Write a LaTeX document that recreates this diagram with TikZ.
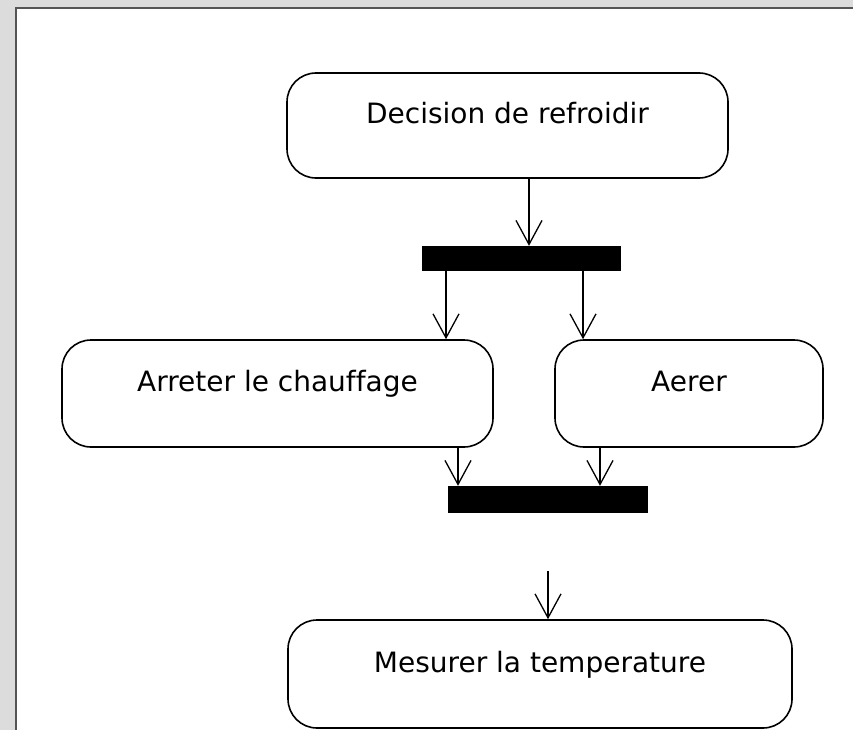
\documentclass[tikz,border=0pt]{standalone}
\usepackage{fontspec}
\setmainfont{DejaVu Sans}[Ligatures=NoCommon]
\usetikzlibrary{arrows.meta}
\definecolor{framegray}{HTML}{DCDCDC}
\definecolor{edgegray}{HTML}{555555}
\begin{document}
\begin{tikzpicture}[x=1pt,y=-1pt,
  activity/.style={draw=black, line width=1.6pt, rounded corners=29pt, fill=white,
    inner sep=0pt, font=\fontsize{28}{34}\selectfont, text height=21pt, text depth=25pt},
  forkbar/.style={fill=black, draw=none, inner sep=0pt},
  flow/.style={line width=1.3pt, -{Straight Barb[length=24pt,width=26pt,line width=1.3pt]}}
]
\useasboundingbox (0,0) rectangle (853,730);
% window frame
\fill[framegray] (0,0) rectangle (853,730);
\fill[white] (16,8) rectangle (853,730);
\draw[edgegray, line width=2pt] (16,730) -- (16,8) -- (853,8);

% activities
\node[activity, minimum width=441pt, minimum height=105pt] (dec) at (507.5,125.5) {Decision de refroidir};
\node[activity, minimum width=431pt, minimum height=107pt] (arr) at (277.5,393.5) {Arreter le chauffage};
\node[activity, minimum width=268pt, minimum height=107pt] (aer) at (689,393.5) {Aerer};
\node[activity, minimum width=504pt, minimum height=108pt] (mes) at (540,674) {Mesurer la temperature};

% fork and join bars
\node[forkbar, minimum width=199pt, minimum height=25pt] (fork) at (521.5,258.5) {};
\node[forkbar, minimum width=200pt, minimum height=27pt] (join) at (548,499.5) {};

% x positions of the flows
\coordinate (c1) at (529,0);
\coordinate (c2) at (446,0);
\coordinate (c3) at (583,0);
\coordinate (c4) at (458,0);
\coordinate (c5) at (600,0);
\coordinate (fs) at (548,571);

% flows
\draw[flow] (dec.south -| c1) -- (fork.north -| c1);
\draw[flow] (fork.south -| c2) -- (arr.north -| c2);
\draw[flow] (fork.south -| c3) -- (aer.north -| c3);
\draw[flow] (arr.south -| c4) -- (join.north -| c4);
\draw[flow] (aer.south -| c5) -- (join.north -| c5);
\draw[flow] (fs) -- (mes.north -| fs);
\end{tikzpicture}
\end{document}
